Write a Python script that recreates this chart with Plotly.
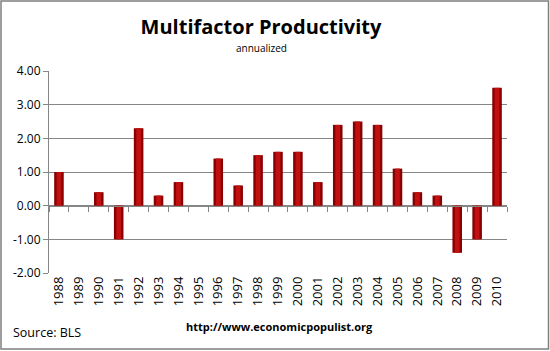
import plotly.graph_objects as go

years = [str(y) for y in range(1988, 2011)]
values = [1.0, 0.0, 0.4, -1.0, 2.3, 0.3, 0.7, 0.0, 1.4, 0.6, 1.5, 1.6, 1.6,
          0.7, 2.4, 2.5, 2.4, 1.1, 0.4, 0.3, -1.4, -1.0, 3.5]
y_ticks = [-2, -1, 0, 1, 2, 3, 4]
y_tick_text = ["-2.00", "-1.00", "0.00", "1.00", "2.00", "3.00", "4.00"]

W, H = 550, 351
L, R, T, B = 49, 43, 71, 78
pw, ph = W - L - R, H - T - B

fig = go.Figure()
fig.add_trace(go.Bar(x=years, y=values, width=0.48,
                     marker=dict(color="#8A0000", line=dict(width=0)),
                     hoverinfo="x+y"))
fig.add_trace(go.Bar(x=years, y=values, width=0.24,
                     marker=dict(color="#C01010", line=dict(width=0)),
                     hoverinfo="skip"))
# invisible trace for the zero-crossing category axis with boundary ticks
fig.add_trace(go.Scatter(x=years, y=[0] * len(years), xaxis="x2", mode="markers",
                         marker=dict(opacity=0), hoverinfo="skip", showlegend=False))

fig.update_layout(
    width=W, height=H, barmode="overlay", showlegend=False,
    paper_bgcolor="white", plot_bgcolor="white",
    margin=dict(l=L, r=R, t=T, b=B),
    font=dict(family="Open Sans", color="#000"),
    xaxis=dict(type="category", categoryorder="array", categoryarray=years,
               range=[-0.5, 22.5], tickangle=-90, ticks="", showline=False,
               showgrid=False, tickfont=dict(size=13, family="Open Sans")),
    xaxis2=dict(type="category", categoryorder="array", categoryarray=years,
                range=[-0.5, 22.5], overlaying="x", anchor="free",
                position=(0 - y_ticks[0]) / (y_ticks[-1] - y_ticks[0]),
                showticklabels=False, tickson="boundaries", ticks="outside",
                ticklen=5, tickcolor="#868686", showline=True, linecolor="#868686",
                linewidth=1, showgrid=False),
    yaxis=dict(range=[y_ticks[0], y_ticks[-1]], tickvals=y_ticks, ticktext=y_tick_text,
               showgrid=True, gridcolor="#868686", gridwidth=1, zeroline=False,
               showline=True, linecolor="#868686", ticks="outside", ticklen=5,
               tickcolor="#868686", tickfont=dict(size=12, family="Open Sans")),
    title=dict(text="<b>Multifactor Productivity</b>", x=261 / W, xanchor="center",
               y=1 - 27 / H, yanchor="middle", font=dict(size=20, family="Open Sans")),
    annotations=[
        dict(text="annualized", xref="paper", yref="paper", x=(261 - L) / pw,
             y=1 + (T - 48) / ph, xanchor="center", yanchor="middle", showarrow=False,
             font=dict(size=10, family="Open Sans")),
        dict(text="<b>http://www.economicpopulist.org</b>", xref="paper", yref="paper",
             x=(279 - L) / pw, y=-(326 - T - ph) / ph, xanchor="center", yanchor="middle",
             showarrow=False, font=dict(size=11, family="Open Sans")),
        dict(text="Source: BLS", xref="paper", yref="paper", x=(11 - L) / pw,
             y=-(332 - T - ph) / ph, xanchor="left", yanchor="middle", showarrow=False,
             font=dict(size=12.5, family="Open Sans")),
    ],
    shapes=[dict(type="rect", xref="paper", yref="paper",
                 x0=(1 - L) / pw, x1=(W - 1.5 - L) / pw,
                 y0=-(H - 2 - T - ph) / ph, y1=1 + (T - 1) / ph,
                 line=dict(color="#7F7F7F", width=1.5), layer="above")],
)

fig.write_html("out.html")
